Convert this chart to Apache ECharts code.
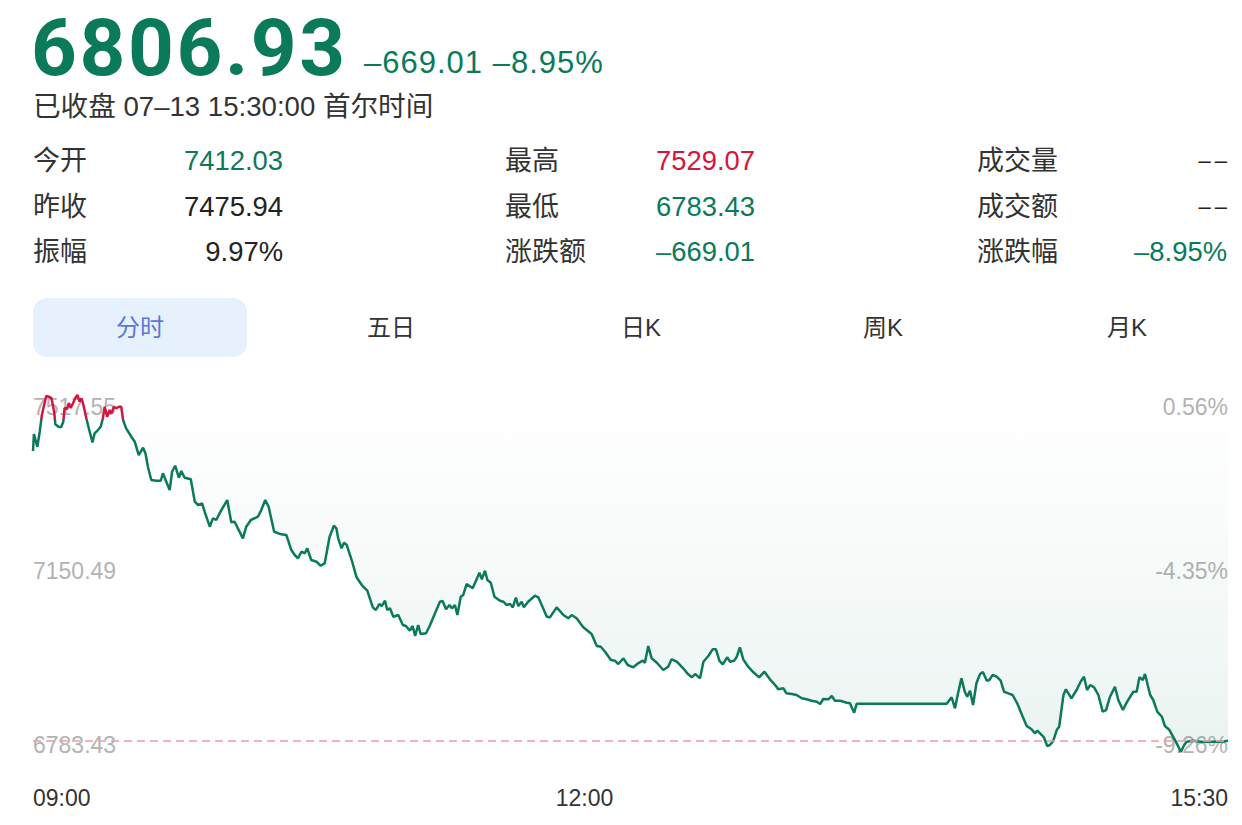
<!DOCTYPE html>
<html>
<head>
<meta charset="utf-8">
<script src="https://cdn.jsdelivr.net/npm/echarts@6/dist/echarts.min.js"></script>
<style>
html,body{margin:0;padding:0;background:#fff;width:1242px;height:825px;overflow:hidden;}
#chart{position:absolute;left:0;top:0;width:1242px;height:825px;}
.t{position:absolute;white-space:nowrap;line-height:1;font-family:"Liberation Sans","Noto Sans CJK SC",sans-serif;transform:translateY(-50%);}
.tab{position:absolute;left:33px;top:298px;width:214px;height:59px;border-radius:14px;background:#e7f1fd;}
</style>
</head>
<body>
<div id="chart"></div>
<div class="tab"></div>
<div id="hdr"></div>
<script>
// ---------- data ----------
const prevClose = 7475.94;
const lastPrice = 6806.93;
const headPrice = '6806.93';
const headChange = '–669.01 –8.95%';
const headStatus = '已收盘 07–13 15:30:00 首尔时间';

const statLabels = [['今开','最高','成交量'],['昨收','最低','成交额'],['振幅','涨跌额','涨跌幅']];
const statValues = [['7412.03','7529.07','––'],['7475.94','6783.43','––'],['9.97%','–669.01','–8.95%']];
const statKinds  = [['down','up','flat'],['flat','down','flat'],['flat','down','down']];
const tabs = ['分时','五日','日K','周K','月K'];

const xTickMinutes = [0, 180, 390];
const xTickLabels = ['09:00', '12:00', '15:30'];
const yTickValues = [6783.43, 7150.49, 7517.55];
const yTickLabels = ['6783.43', '7150.49', '7517.55'];
const yPctLabels = ['-9.26%', '-4.35%', '0.56%'];
const yMin = 6783.43, yMax = 7529.07;

// minutes after 09:00
const minutes = [0,0.3,1.4,2.2,2.9,4.3,5.1,6.0,6.9,7.3,8.4,9.2,9.9,10.3,11.1,11.7,12.3,13.1,13.8,14.5,
15.2,15.8,16.3,17.4,18.5,19.4,20.1,21.2,22.1,22.8,23.4,24.2,25.0,25.6,26.4,27.2,28.0,28.8,29.4,30.4,
32.1,33.2,34.5,35.9,36.7,37.5,38.6,40.2,41.7,42.4,43.5,44.6,45.4,46.4,47.6,48.4,49.5,51.5,52.8,53.9,
55.2,56.0,57.7,58.7,59.8,60.9,61.8,63.4,64.7,65.8,68.5,69.6,71.1,73.4,74.5,75.8,76.9,78.7,81.0,82.7,
84.3,85.4,86.5,87.6,88.7,89.5,90.8,92.5,93.9,95.2,96.8,98.2,99.0,99.6,100.7,101.5,102.4,104.0,105.6,107.3,
109.1,110.9,111.9,113.0,113.8,114.9,115.6,116.5,117.6,119.2,120.7,121.7,123.0,123.9,124.7,125.7,126.5,128.3,129.6,131.2,
132.8,133.7,134.8,135.9,136.7,137.7,138.5,139.6,140.4,141.5,143.5,145.7,146.5,147.5,148.3,149.4,150.6,152.4,153.5,154.6,
155.7,156.6,157.6,158.4,159.5,160.2,161.6,163.8,164.9,167.7,168.7,170.9,173.1,174.7,175.8,177.4,179.6,182.3,184.0,185.3,
186.7,188.6,189.9,191.0,192.7,194.1,195.9,197.5,199.0,199.7,200.8,201.9,203.6,205.7,207.3,208.4,210.1,212.2,213.5,215.0,
216.1,217.7,218.8,220.4,221.8,222.9,224.0,225.1,226.6,227.5,228.8,229.7,230.7,231.8,233.4,235.1,237.0,238.7,240.5,242.2,
243.2,244.9,245.9,247.6,249.2,250.9,252.5,254.1,255.8,256.9,257.9,259.6,260.7,261.7,263.4,265.6,266.6,268.0,268.8,298.2,
299.8,300.9,301.9,303.0,304.1,304.9,305.8,306.8,307.9,309.1,310.0,311.3,312.1,313.2,314.5,315.8,316.9,318.3,319.7,321.2,
323.0,324.3,325.9,327.0,327.8,329.2,329.9,331.0,331.9,333.0,334.1,334.9,336.3,337.1,338.9,340.6,341.9,343.0,344.0,345.0,
346.3,347.7,349.1,350.2,351.5,353.1,354.2,355.7,357.1,359.1,360.2,361.1,362.2,362.9,364.6,365.6,366.9,368.4,369.4,370.9,
372.2,373.8,374.6,375.7,376.5,378.7,380.9,383.1,386.4,388.5,390];

const prices = [7412.03,7447.6,7421.0,7452.4,7487.3,7527.0,7525.5,7522.8,7494.2,7467.8,7462.2,7462.2,7473.3,7501.9,7499.8,7512.3,7501.9,7512.3,7522.8,7529.07,
7515.0,7522.1,7512.3,7480.4,7452.4,7430.2,7449.0,7455.9,7462.8,7480.4,7504.6,7483.7,7497.7,7490.8,7504.6,7501.3,7504.6,7504.6,7476.8,7459.5,
7441.9,7431.5,7403.7,7419.0,7407.3,7379.3,7351.5,7350.0,7350.0,7365.5,7347.9,7330.6,7368.8,7381.4,7356.3,7370.3,7356.3,7353.0,7306.2,7299.3,
7302.8,7285.3,7254.0,7271.5,7268.0,7281.9,7292.4,7309.7,7263.2,7264.4,7229.7,7254.0,7268.0,7274.8,7288.8,7309.7,7295.7,7243.5,7238.1,7236.6,
7205.3,7194.9,7188.0,7201.7,7198.4,7208.8,7184.4,7180.9,7172.5,7177.5,7233.1,7256.1,7250.6,7229.7,7208.8,7220.5,7215.7,7184.4,7148.3,7132.2,
7120.3,7085.6,7080.0,7092.5,7088.3,7099.4,7080.0,7083.5,7066.0,7069.5,7048.7,7046.6,7036.7,7046.6,7025.7,7048.7,7029.9,7031.3,7048.7,7073.1,
7097.3,7098.8,7081.4,7090.4,7083.5,7090.4,7069.5,7107.8,7111.3,7134.3,7125.3,7157.9,7144.1,7162.1,7142.6,7137.0,7107.8,7099.4,7097.3,7090.4,
7092.5,7085.6,7105.7,7088.3,7097.3,7085.6,7097.3,7109.8,7106.5,7066.0,7064.7,7085.6,7069.5,7062.6,7069.5,7062.6,7043.8,7029.9,7004.8,7003.3,
6992.9,6975.6,6974.1,6967.2,6979.1,6965.1,6960.3,6968.7,6974.1,6969.9,7004.8,6979.1,6969.9,6954.7,6961.6,6977.0,6972.0,6958.2,6947.8,6939.4,
6946.3,6937.3,6972.0,6983.9,6997.9,6997.9,6974.1,6966.6,6981.2,6972.0,6974.1,6982.4,7002.1,6977.0,6961.6,6949.9,6939.4,6951.1,6935.2,6923.3,
6914.4,6916.4,6906.0,6904.5,6902.5,6895.6,6893.5,6890.5,6888.5,6883.7,6894.1,6893.5,6900.4,6890.5,6890.5,6886.4,6885.1,6865.5,6884.0,6884.0,
6897.6,6874.7,6906.0,6937.3,6909.3,6898.9,6911.4,6881.6,6926.9,6946.3,6950.5,6932.3,6933.8,6944.2,6940.7,6932.3,6909.3,6906.0,6902.5,6885.1,
6857.1,6837.7,6830.8,6822.5,6827.9,6818.9,6814.1,6795.9,6798.0,6807.0,6829.3,6836.2,6902.5,6914.4,6895.6,6912.9,6930.2,6940.7,6912.9,6923.3,
6918.5,6902.5,6867.6,6871.1,6898.9,6919.8,6892.0,6871.1,6888.5,6909.3,6909.3,6939.4,6933.8,6946.3,6902.5,6892.0,6867.6,6857.1,6837.7,6829.3,
6814.1,6794.5,6783.43,6798.0,6804.9,6807.0,6804.9,6804.9,6804.9,6805.5,6806.93];

// ---------- header (HTML text) ----------
const GREEN = '#0a7a5a', RED = '#d4163c', DARK = '#222';
const hdr = document.getElementById('hdr');
function txt(s, x, cy, o) {
  const d = document.createElement('div');
  d.className = 't';
  d.textContent = s;
  if (o.align === 'right') d.style.right = (1242 - x) + 'px';
  else if (o.align === 'center') { d.style.left = x + 'px'; d.style.transform = 'translate(-50%,-50%)'; }
  else d.style.left = x + 'px';
  d.style.top = cy + 'px';
  d.style.fontSize = o.size + 'px';
  d.style.color = o.color || DARK;
  if (o.weight) d.style.fontWeight = o.weight;
  if (o.family) d.style.fontFamily = o.family;
  if (o.ls) d.style.letterSpacing = o.ls + 'px';
  hdr.appendChild(d);
}
txt(headPrice, 31, 47.5, {size: 80, color: GREEN, weight: 700, family: 'Roboto, "Liberation Sans", sans-serif', ls: 2.6});
txt(headChange, 364, 62, {size: 31, color: GREEN, ls: 1});
txt(headStatus, 33, 107, {size: 27.6, color: '#333'});
const rowY = [161, 207, 252];
const labX = [33, 505, 977];
const valX = [283, 755, 1227];
const kindColor = {up: RED, down: GREEN, flat: DARK};
for (let r = 0; r < 3; r++) {
  for (let c = 0; c < 3; c++) {
    txt(statLabels[r][c], labX[c], rowY[r], {size: 27, color: '#333'});
    const isDash = statValues[r][c] === '––';
    txt(statValues[r][c], valX[c] + (isDash ? 4 : 0), rowY[r], {size: isDash ? 22 : 27.4, color: kindColor[statKinds[r][c]], align: 'right', ls: isDash ? 4 : 0});
  }
}
const tabX = [140, 391, 641, 883, 1127];
tabs.forEach((s, i) => txt(s, tabX[i], 328, {size: 24, color: i === 0 ? '#5a78d6' : '#333', align: 'center'}));

// ---------- chart ----------
const FONT = '"Liberation Sans","Noto Sans CJK SC",sans-serif';
const chart = echarts.init(document.getElementById('chart'), null, {renderer: 'svg'});
const data = minutes.map((m, i) => [m, prices[i]]);
const yShift = {a0: [0, 0, 14, 0], a1: [0, 0, 10, 0], a2: [13, 0, 0, 0]};
const rich = {};
Object.keys(yShift).forEach(k => rich[k] = {padding: yShift[k], color: '#b3b3b3', fontSize: 23, fontFamily: FONT});
function yFmt(labels) {
  return v => {
    const i = yTickValues.findIndex(t => Math.abs(t - v) < 0.01);
    return i < 0 ? '' : '{a' + i + '|' + labels[i] + '}';
  };
}
const yBase = {
  type: 'value', min: yMin, max: yMax, scale: true,
  axisLine: {show: false}, axisTick: {show: false}, splitLine: {show: false}
};
chart.setOption({
  animation: false,
  backgroundColor: 'transparent',
  grid: {left: 33, right: 14, top: 395, height: 357},
  xAxis: {
    type: 'value', min: 0, max: 390,
    axisLine: {show: false}, axisTick: {show: false}, splitLine: {show: false},
    axisLabel: {
      customValues: xTickMinutes,
      formatter: v => xTickLabels[xTickMinutes.indexOf(v)] || '',
      color: '#333', fontSize: 23, fontFamily: FONT, margin: 34,
      alignMinLabel: 'left', alignMaxLabel: 'right'
    }
  },
  yAxis: [
    Object.assign({}, yBase, {position: 'left',
      axisLabel: {inside: true, margin: 0, customValues: yTickValues, formatter: yFmt(yTickLabels), rich: rich, align: 'left'}}),
    Object.assign({}, yBase, {position: 'right',
      axisLabel: {inside: true, margin: 0, customValues: yTickValues, formatter: yFmt(yPctLabels), rich: rich, align: 'right'}})
  ],
  visualMap: {
    show: false, type: 'piecewise', seriesIndex: 0, dimension: 1,
    pieces: [{gt: prevClose, lte: 9000, color: RED}, {gte: 5000, lte: prevClose, color: GREEN}],
    outOfRange: {color: GREEN}
  },
  series: [{
    type: 'line', data: data, symbol: 'none', showSymbol: false, clip: false,
    lineStyle: {width: 2.5},
    areaStyle: {
      origin: 'end',
      color: {type: 'linear', x: 0, y: 0, x2: 0, y2: 1, colorStops: [
        {offset: 0, color: 'rgba(11,120,95,0)'},
        {offset: 0.3, color: 'rgba(11,120,95,0.03)'},
        {offset: 1, color: 'rgba(11,120,95,0.12)'}
      ]}
    },
    markLine: {
      silent: true, symbol: ['none', 'none'], label: {show: false},
      lineStyle: {color: '#ee9aab', type: [8, 5], width: 1.6},
      data: [{yAxis: lastPrice}]
    }
  }]
});
</script>
</body>
</html>
